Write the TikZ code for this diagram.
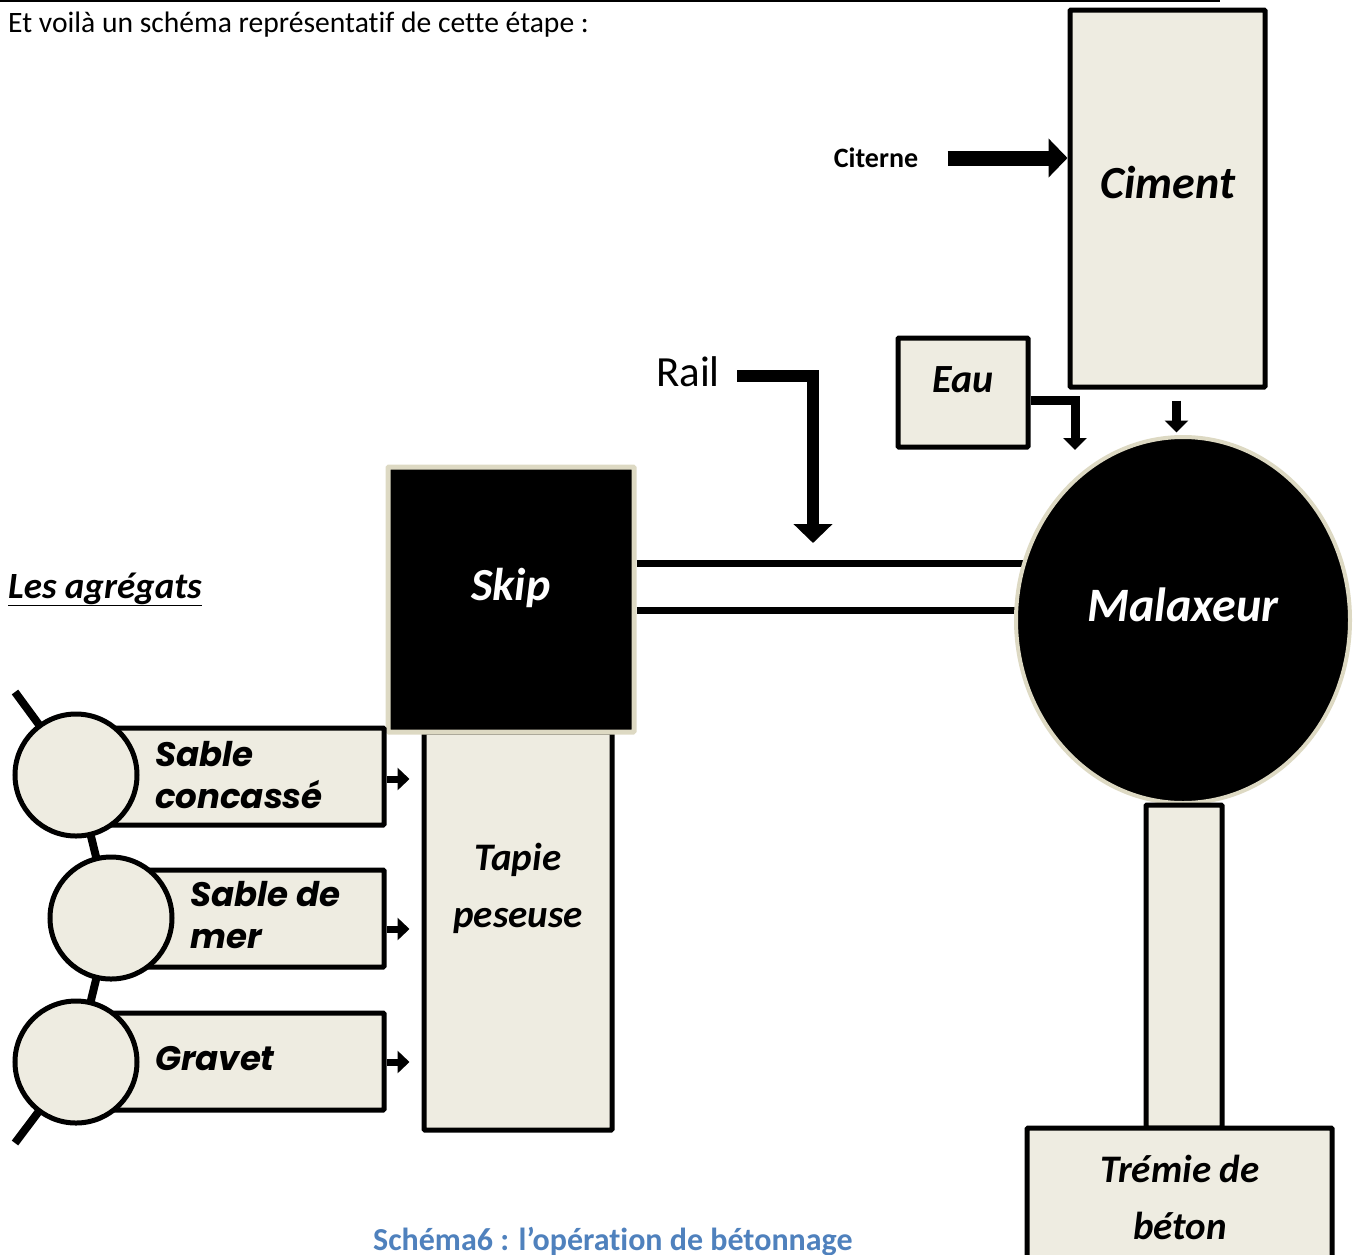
\documentclass[tikz,border=0pt]{standalone}
\usepackage{fontspec}
\setmainfont{Carlito}[Ligatures=NoCommon]
\newfontfamily\aggfont{Poppins}
\usepackage{tikz}
\usetikzlibrary{positioning}
\usetikzlibrary{calc}
\usetikzlibrary{arrows.meta}
\usetikzlibrary{shapes.geometric}
\usetikzlibrary{backgrounds}
\definecolor{paper}{HTML}{EEECE1}
\definecolor{rim}{HTML}{DDD9C3}
\definecolor{capblue}{HTML}{4F81BD}
\newcommand{\fsize}[2]{\fontsize{#1}{#2}\selectfont}
\tikzset{basic box/.style={draw,line width=5pt,inner sep=0pt,rounded corners=1pt}}
\tikzset{paper box/.style={basic box,fill=paper}}
\tikzset{dark box/.style={basic box,draw=rim,fill=black}}
\tikzset{big arrow/.style={draw,line width=15pt,-{Triangle[length=19pt,width=38pt]}}}
\tikzset{small arrow/.style={draw,line width=9pt,-{Triangle[length=12pt,width=23pt]}}}
\tikzset{tiny arrow/.style={draw,line width=7pt,-{Triangle[length=12pt,width=22pt]}}}

\begin{document}
\begin{tikzpicture}
  [
  x=1pt,y=-1pt,
  box text/.style={font=\fsize{39}{57}\bfseries\itshape,align=center},
  agg text/.style={font=\aggfont\fsize{34}{42}\bfseries\itshape,align=left,anchor=west,inner sep=0pt},
  drum/.style={basic box,circle,fill=paper,minimum size=122},
  chain/.style={draw,line width=8pt},
  rail/.style={draw,line width=7pt},
  ]
  \useasboundingbox (0,0) rectangle (1359,1254);

  % header
  \draw [line width=2pt] (0,1) -- (1220,1);
  \node [anchor=base west,inner sep=0pt,font=\fsize{29.6}{35}] (intro) at (8,32)
  {Et voilà un schéma représentatif de cette étape :};

  % cement, water
  \node [paper box,minimum width=195,minimum height=377] (ciment) at (1167.5,198.5) {};
  \node [font=\fsize{46}{55}\bfseries\itshape] (cimentT) at (1168,183) {Ciment};
  \node [font=\fsize{28}{34}\bfseries] (citerne) at (876,158) {Citerne};
  \node [paper box,minimum width=130,minimum height=109] (eau) at (963,392.5) {};
  \node [font=\fsize{40}{48}\bfseries\itshape] (eauT) at (963,380) {Eau};

  % mixer
  \node [ellipse,draw=rim,line width=4pt,fill=black,minimum width=334,minimum height=366,inner sep=0pt]
  (malaxeur) at (1183,620) {};
  \node [text=white,font=\fsize{48}{58}\bfseries\itshape] (malaxeurT) at (1183,605) {Malaxeur};

  % skip and belt
  \node [paper box,minimum width=188,minimum height=398] (tapie) at (518,931) {};
  \node [box text] (tapieT) at (518,888) {Tapie\\peseuse};
  \node [dark box,minimum width=246,minimum height=265] (skip) at (511,599.5) {};
  \node [text=white,font=\fsize{46}{55}\bfseries\itshape] (skipT) at (511,588) {Skip};
  \node [font=\fsize{43}{52}] (rail) at (688,372) {Rail};
  \coordinate (railEnd) at (813,543);

  % output
  \node [paper box,minimum width=76,minimum height=323] (chute) at (1184,966.5) {};
  \node [paper box,minimum width=305,minimum height=180] (tremie) at (1179.5,1218) {};
  \node [box text] (tremieT) at (1180,1197) {Trémie de\\béton};

  % aggregates
  \node [anchor=base west,inner sep=0pt,font=\fsize{37}{44}\bfseries\itshape] (agregats) at (8,598)
  {\underline{Les agrégats}};
  \foreach \i/\x/\y/\w in {1/247/776.5/274, 2/264.5/918.5/239, 3/247/1061.5/274}
  {
  \node [paper box,minimum width=\w,minimum height=97] (S\i) at (\x,\y) {};
  }
  \foreach \i/\x/\y in {1/76/775, 2/111/918, 3/76/1062}
  {
  \node [drum] (C\i) at (\x,\y) {};
  }
  \node [agg text] (S1T) at (155,775) {Sable\\concassé};
  \node [agg text] (S2T) at (190,915) {Sable de\\mer};
  \node [agg text] (S3T) at (155,1059) {Gravet};
  \coordinate (chainTop) at (15,692);
  \coordinate (chainBot) at (15,1143);

  % lines behind
  \begin{scope}[on background layer]
    \draw [chain] (chainTop) -- (C1.center) -- (C2.center) -- (C3.center) -- (chainBot);
    \coordinate (rA) at ($(skip.east)+(0,-36.5)$);
    \coordinate (rB) at ($(skip.east)+(0,10.5)$);
    \draw [rail] (rA) -- (rA -| malaxeur.center);
    \draw [rail] (rB) -- (rB -| malaxeur.center);
  \end{scope}

  % arrows
  \draw [big arrow] ($(citerne.east)+(26,0)$) -- (citerne.east -| ciment.west);
  \draw [big arrow,line width=12pt] ($(rail.east)+(14,4)$) -| (railEnd);
  \coordinate (eauOut) at ($(eau.east)+(0,8)$);
  \coordinate (eauDrop) at (1075,450);
  \draw [small arrow] (eauOut) -| (eauDrop);
  \coordinate (cimentOut) at ($(ciment.south)+(9,11)$);
  \coordinate (cimentDrop) at ($(ciment.south)+(9,43)$);
  \draw [small arrow] (cimentOut) -- (cimentDrop);
  \foreach \i/\d in {1/2.5, 2/10.5, 3/0.5}
  {
  \coordinate (A\i) at ($(S\i.east)+(0,\d)$);
  \draw [tiny arrow,shorten >=12pt] (A\i) -- (A\i -| tapie.west);
  }

  % caption
  \node [anchor=base west,inner sep=0pt,text=capblue,font=\fsize{32}{38}\bfseries] (caption) at (373,1250)
  {Schéma6 : l’opération de bétonnage};

\end{tikzpicture}
\end{document}
